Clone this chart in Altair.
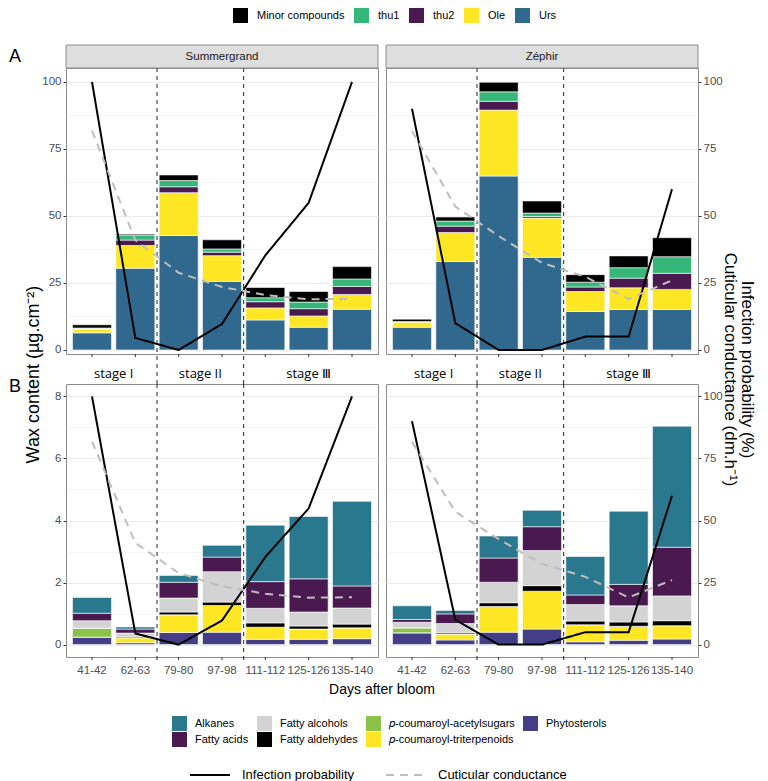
import altair as alt
import pandas as pd

# ---------------- data ----------------
days = ["41-42", "62-63", "79-80", "97-98", "111-112", "125-126", "135-140"]
positions = [1, 2, 3, 4, 5, 6, 7]
varieties = ["Summergrand", "Zéphir"]
x_title = "Days after bloom"

# Panel A : triterpenoid composition (µg.cm-2)
a_groups = ["Minor compounds", "thu1", "thu2", "Ole", "Urs"]
a_colors = ["#000000", "#35B779", "#49194F", "#FDE725", "#31688E"]
a_stack = ["Urs", "Ole", "thu2", "thu1", "Minor compounds"]  # bottom -> top

sg_urs = [6.4, 30.5, 42.7, 25.6, 11.2, 8.5, 15.2]
sg_ole = [1.4, 8.5, 16.0, 9.6, 4.5, 4.2, 5.5]
sg_thu2 = [0.2, 2.0, 2.2, 1.3, 2.3, 2.7, 3.0]
sg_thu1 = [0.2, 1.7, 2.3, 1.2, 1.5, 2.5, 2.8]
sg_minor = [1.2, 0.5, 2.1, 3.4, 3.8, 3.9, 4.6]

ze_urs = [8.5, 33.0, 64.9, 34.6, 14.4, 15.1, 15.1]
ze_ole = [1.9, 10.8, 24.6, 14.6, 7.4, 8.1, 7.5]
ze_thu2 = [0.1, 2.4, 3.3, 0.6, 1.7, 3.6, 6.0]
ze_thu1 = [0.1, 1.9, 3.5, 1.3, 1.8, 3.9, 6.2]
ze_minor = [0.9, 1.5, 3.6, 4.5, 2.8, 4.4, 7.1]

# Panel B : other wax classes (µg.cm-2)
b_groups = ["Alkanes", "Fatty acids", "Fatty alcohols", "Fatty aldehydes",
            "𝑝-coumaroyl-acetylsugars", "𝑝-coumaroyl-triterpenoids", "Phytosterols"]
b_colors = ["#2A788E", "#49194F", "#D3D3D3", "#000000", "#8BC34A", "#FDE725", "#433E85"]
b_stack = list(reversed(b_groups))  # bottom -> top
b_legend_order = [b_groups[i] for i in (0, 2, 4, 6, 1, 3, 5)]

sg_alk = [0.51, 0.07, 0.22, 0.38, 1.82, 2.01, 2.73]
sg_acid = [0.24, 0.13, 0.51, 0.47, 0.86, 1.07, 0.71]
sg_alc = [0.24, 0.12, 0.45, 0.98, 0.47, 0.45, 0.52]
sg_ald = [0.0, 0.03, 0.09, 0.11, 0.14, 0.10, 0.12]
sg_acet = [0.29, 0.0, 0.0, 0.0, 0.0, 0.0, 0.0]
sg_trit = [0.0, 0.16, 0.57, 0.86, 0.39, 0.33, 0.35]
sg_phyt = [0.24, 0.06, 0.39, 0.40, 0.17, 0.17, 0.19]

ze_alk = [0.44, 0.11, 0.71, 0.53, 1.24, 2.36, 3.90]
ze_acid = [0.09, 0.31, 0.78, 0.77, 0.31, 0.69, 1.57]
ze_alc = [0.18, 0.30, 0.66, 1.13, 0.53, 0.52, 0.80]
ze_ald = [0.0, 0.04, 0.12, 0.18, 0.12, 0.14, 0.16]
ze_acet = [0.16, 0.0, 0.0, 0.0, 0.0, 0.0, 0.0]
ze_trit = [0.0, 0.19, 0.83, 1.22, 0.55, 0.45, 0.43]
ze_phyt = [0.38, 0.15, 0.40, 0.50, 0.09, 0.14, 0.18]

# Lines (right axis, %)
series = ["Infection probability", "Cuticular conductance"]
sg_infection = [100, 4.5, 0, 9.7, 35.3, 54.9, 100]
sg_conductance = [81.8, 41.0, 28.8, 23.5, 20.5, 18.9, 19.1]
ze_infection = [90, 10, 0, 0, 5, 5, 60]
ze_conductance = [81.7, 53.5, 42.5, 32.5, 27.3, 19.0, 26.0]

stage_names = ["stage I", "stage II", "stage Ⅲ"]
stage_pos = [1.5, 3.5, 6.0]
stage_bounds = [2.5, 4.5]

a_data = {
    "Summergrand": dict(zip(["Urs", "Ole", "thu2", "thu1", "Minor compounds"],
                            [sg_urs, sg_ole, sg_thu2, sg_thu1, sg_minor])),
    "Zéphir": dict(zip(["Urs", "Ole", "thu2", "thu1", "Minor compounds"],
                       [ze_urs, ze_ole, ze_thu2, ze_thu1, ze_minor])),
}
b_data = {
    "Summergrand": dict(zip(b_groups, [sg_alk, sg_acid, sg_alc, sg_ald, sg_acet, sg_trit, sg_phyt])),
    "Zéphir": dict(zip(b_groups, [ze_alk, ze_acid, ze_alc, ze_ald, ze_acet, ze_trit, ze_phyt])),
}
line_data = {
    "Summergrand": [sg_infection, sg_conductance],
    "Zéphir": [ze_infection, ze_conductance],
}


def long_df(values_by_group, stack):
    rows = []
    for k, g in enumerate(stack):
        for p, val in zip(positions, values_by_group[g]):
            rows.append({"pos": p, "group": g, "order": k, "value": val})
    return pd.DataFrame(rows)


def lines_df(variety):
    rows = []
    for s, vals in zip(series, line_data[variety]):
        for p, val in zip(positions, vals):
            rows.append({"pos": p, "series": s, "val": val})
    return pd.DataFrame(rows)


# ---------------- styling ----------------
FONT = "Liberation Sans"
LABEL = "#4D4D4D"
W, HA, HB = 312, 286, 273
XDOM = [0.4, 7.6]
A_DOM = [-1.5, 105.2]
B_DOM = [-0.4, 8.4]
RB_DOM = [-5, 105]
GRID = "#EBEBEB"

xscale = alt.Scale(domain=XDOM, nice=False, zero=False)
cat_df = pd.DataFrame({"pos": positions, "day": days})

legend_a = alt.Legend(orient="none", legendX=167, legendY=-60, direction="horizontal",
                      title=None, symbolType="square", symbolSize=225, symbolStrokeWidth=0,
                      labelFontSize=11, labelColor="black", labelOffset=9,
                      columnPadding=9, padding=0, values=a_groups)
legend_b = alt.Legend(orient="none", legendX=106, legendY=648, direction="horizontal",
                      columns=4, values=b_legend_order, title=None, symbolType="square",
                      symbolSize=225, symbolStrokeWidth=0, labelFontSize=11,
                      labelColor="black", labelOffset=8, columnPadding=8, rowPadding=1,
                      padding=0)
legend_s = alt.Legend(orient="none", legendX=123, legendY=686, direction="horizontal",
                      title=None, symbolType="stroke", symbolSize=1600, symbolStrokeWidth=2,
                      labelFontSize=13, labelColor="black", labelOffset=11,
                      columnPadding=27, padding=0, values=series)


def cond(major, a, b):
    return {"condition": {"test": f"datum.value % {major} == 0", "value": a}, "value": b}


def panel(variety, row):
    left = variety == varieties[0]
    if row == "A":
        comp = long_df(a_data[variety], a_stack)
        H, ydom, rdom = HA, A_DOM, A_DOM
        yvals = [i * 12.5 for i in range(9)]
        major = 25
        fill_ch = alt.Fill("group:N", scale=alt.Scale(domain=a_groups, range=a_colors),
                           legend=legend_a)
    else:
        comp = long_df(b_data[variety], b_stack)
        H, ydom, rdom = HB, B_DOM, RB_DOM
        yvals = list(range(9))
        major = 2
        fill_ch = alt.Color("group:N", scale=alt.Scale(domain=b_groups, range=b_colors),
                            legend=legend_b)

    # x grid (category centres)
    xaxis = alt.Axis(orient="bottom", values=positions, grid=True, gridColor=GRID,
                     gridWidth=1, ticks=False, labels=False, domain=False, title=None)

    # left y axis
    ykw = dict(orient="left", values=yvals, grid=True, gridColor=GRID,
               gridWidth=cond(major, 1, 0.5), domain=False)
    if left:
        ykw.update(labelExpr=f"datum.value % {major} == 0 ? datum.label : ''",
                   tickOpacity=cond(major, 1, 0), tickSize=3, tickColor="#333333",
                   labelColor=LABEL, labelFontSize=11.5, labelPadding=2)
        if row == "A":
            ykw.update(title="Wax content (µg.cm⁻²)", titleX=-33, titleY=306,
                       titleAngle=270, titleAlign="center", titleBaseline="middle",
                       titleFontSize=18)
        else:
            ykw["title"] = None
    else:
        ykw.update(labels=False, ticks=False, title=None)
    yaxis = alt.Axis(**ykw)

    bars = alt.Chart(comp).transform_stack(
        stack="value", groupby=["pos"], sort=[alt.SortField("order", order="ascending")],
        as_=["y0", "y1"]
    ).transform_calculate(
        xl="datum.pos - 0.45", xr="datum.pos + 0.45"
    ).mark_bar(stroke="white", strokeWidth=0.6).encode(
        x=alt.X("xl:Q", scale=xscale, axis=None),
        x2="xr:Q",
        y=alt.Y("y0:Q", scale=alt.Scale(domain=ydom, nice=False, zero=False), axis=yaxis),
        y2="y1:Q",
        fill=fill_ch if row == "A" else alt.Undefined,
        color=fill_ch if row == "B" else alt.Undefined,
    )

    rules = alt.Chart(pd.DataFrame({"b": stage_bounds})).mark_rule(
        color="#222222", strokeWidth=1, strokeDash=[4, 4]
    ).encode(
        x=alt.X("b:Q", scale=xscale, axis=None),
        y=alt.value(0),
        y2=alt.value(H + 30 if row == "A" else H + 7),
    )

    # right axis for lines
    if left:
        raxis = None
    else:
        rkw = dict(orient="right", values=[0, 25, 50, 75, 100], grid=False, tickSize=3,
                   tickColor="#333333", domain=False, labelColor=LABEL,
                   labelFontSize=11.5, labelPadding=2)
        if row == "A":
            rkw.update(title=["Infection probability (%)", "Cuticular conductance (dm.h⁻¹)"],
                       titleAngle=90, titleX=48, titleY=301, titleAlign="center",
                       titleBaseline="middle", titleFontSize=17, titleLineHeight=17)
        else:
            rkw["title"] = None
        raxis = alt.Axis(**rkw)

    lines = alt.Chart(lines_df(variety)).mark_line(strokeWidth=2).encode(
        x=alt.X("pos:Q", scale=xscale, axis=xaxis),
        y=alt.Y("val:Q", scale=alt.Scale(domain=rdom, nice=False, zero=False), axis=raxis),
        stroke=alt.Stroke("series:N", scale=alt.Scale(domain=series, range=["#000000", "#BEBEBE"]),
                          legend=legend_s),
        strokeDash=alt.StrokeDash("series:N", scale=alt.Scale(domain=series, range=[[1, 0], [8, 6]]),
                                  legend=legend_s),
    )

    # category ticks below the panel
    xticks = alt.Chart(cat_df).mark_rule(color="#333333", strokeWidth=1).encode(
        x=alt.X("pos:Q", scale=xscale, axis=None),
        y=alt.value(H), y2=alt.value(H + 3),
    )

    layers = [bars, rules, lines, xticks]

    if row == "B":
        xlabels = alt.Chart(cat_df).mark_text(
            fontSize=11.5, color=LABEL, baseline="middle"
        ).encode(
            x=alt.X("pos:Q", scale=xscale, axis=None),
            y=alt.value(H + 14),
            text="day:N",
        )
        layers.append(xlabels)
        if left:
            xtitle = alt.Chart(pd.DataFrame({"t": [x_title]})).mark_text(
                fontSize=14, color="black", baseline="middle"
            ).encode(x=alt.value(316), y=alt.value(H + 33), text="t:N")
            layers.append(xtitle)

    if row == "A":
        stages = alt.Chart(pd.DataFrame({"stage": stage_names, "sp": stage_pos})).mark_text(
            font="Open Sans", fontSize=13, baseline="middle", color="black"
        ).encode(
            x=alt.X("sp:Q", scale=xscale, axis=None),
            y=alt.value(H + 20),
            text="stage:N",
        )
        strip_df = pd.DataFrame({"variety": [variety]})
        strip = alt.Chart(strip_df).mark_rect(fill="#DEDEDE", stroke="#8C8C8C", strokeWidth=1).encode(
            x=alt.value(0), x2=alt.value(W), y=alt.value(-23), y2=alt.value(0)
        )
        strip_txt = alt.Chart(strip_df).mark_text(fontSize=11.5, color="#1A1A1A", baseline="middle").encode(
            x=alt.value(W / 2), y=alt.value(-11.5), text="variety:N"
        )
        layers += [stages, strip, strip_txt]

    if left:
        letter = alt.Chart(pd.DataFrame({"lab": [row]})).mark_text(
            fontSize=18, align="left", baseline="middle", color="black"
        ).encode(x=alt.value(-57), y=alt.value(-11 if row == "A" else 3), text="lab:N")
        layers.append(letter)

    return alt.layer(*layers).resolve_scale(y="independent").properties(width=W, height=H)


chart = alt.concat(
    panel("Summergrand", "A"), panel("Zéphir", "A"),
    panel("Summergrand", "B"), panel("Zéphir", "B"),
    columns=2, spacing={"row": 30, "column": 8}, bounds="flush",
).resolve_scale(
    x="independent", y="independent"
).properties(padding=0).configure_view(
    stroke="#8C8C8C", strokeWidth=1
).configure_axis(
    labelFont=FONT, titleFont=FONT, titleColor="black", titleFontWeight="normal",
    labelColor=LABEL
).configure_legend(
    labelFont=FONT
).configure_text(font=FONT)

chart.save("out.html", embed_options={"renderer": "svg", "actions": False})
